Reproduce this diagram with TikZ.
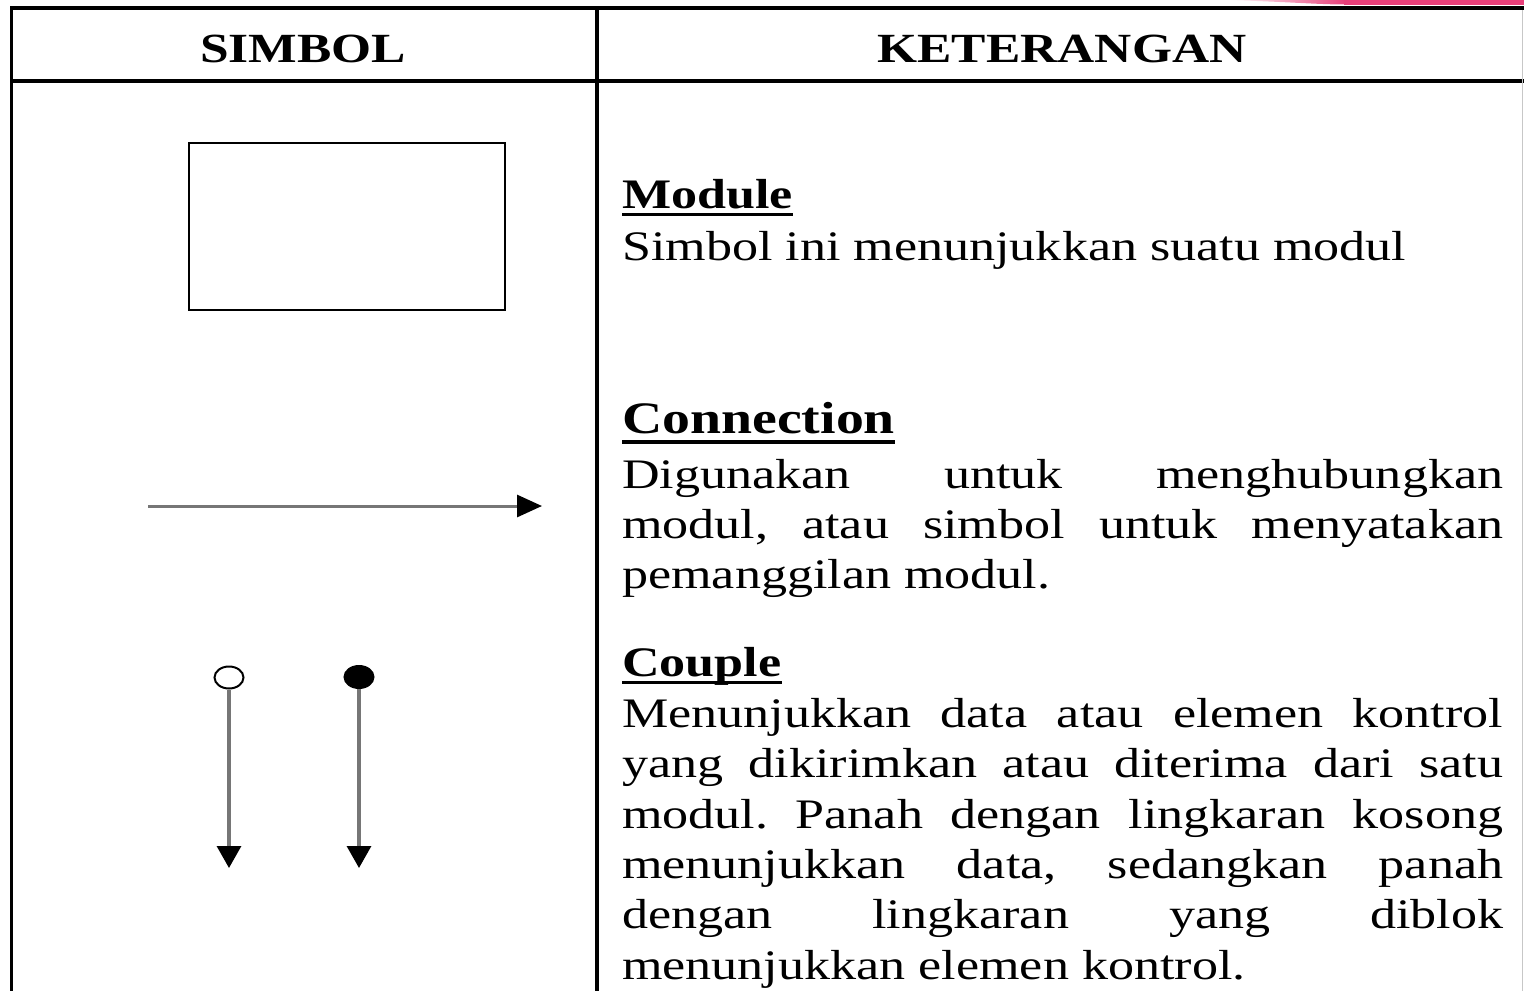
\documentclass[tikz,border=0pt]{standalone}
\usepackage{fontspec}
\setmainfont{Liberation Serif}[FakeStretch=1.24]
\usetikzlibrary{arrows.meta,shapes.geometric}
\definecolor{accent}{HTML}{E8407A}
\definecolor{shaft}{HTML}{767676}
\tikzset{
  rule/.style={line width=4pt, black},
  txt/.style={anchor=base west, inner sep=0pt, font=\fontsize{42}{50}\selectfont},
  head/.style={anchor=base west, inner sep=0pt, font=\fontsize{42}{50}\selectfont\bfseries},
  colhead/.style={anchor=base, inner sep=0pt, font=\fontsize{41.5}{48}\selectfont\bfseries},
  uline/.style={line width=3pt, black},
  flow/.style={shaft, line width=3pt, -{Triangle[length=25pt, width=22pt, color=black]}},
  couple/.style={shaft, line width=3.2pt, -{Triangle[length=22pt, width=24pt, color=black]}},
  knob/.style={ellipse, draw=black, line width=2pt, minimum width=29pt, minimum height=22pt, inner sep=0pt},
}
\newcommand{\just}[1]{\makebox[881pt][s]{#1}}
\begin{document}
\frenchspacing
\begin{tikzpicture}[x=1pt, y=-1pt]
\useasboundingbox (0,0) rectangle (1524,991);
\fill[white] (0,0) rectangle (1524,991);

% accent strip in the top right corner
\shade[left color=white, right color=accent] (1230,0) .. controls (1290,2) and (1320,4.5) .. (1345,4.5) -- (1345,0) -- cycle;
\fill[accent] (1344,0) rectangle (1524,4.5);

% table frame
\draw[rule] (11,8) -- (1524,8);
\draw[rule] (11,81) -- (1524,81);
\draw[line width=3pt] (11,6) -- (11,991);
\draw[rule] (597,6) -- (597,991);
\draw[line width=1.2pt, black!22] (1522.5,10) -- (1522.5,991);

% column headings
\node[colhead] (hsym) at (303,62) {SIMBOL};
\node[colhead] (hket) at (1062,62) {KETERANGAN};

% module symbol
\node[draw=black, line width=2.5pt, minimum width=316pt, minimum height=167pt, inner sep=0pt] (modbox) at (347,226.5) {};

% connection symbol
\coordinate (cstart) at (148,506);
\coordinate (cend) at (542,506);
\draw[flow] (cstart) -- (cend);

% couple symbols
\node[knob, fill=white] (dcirc) at (229,677.5) {};
\node[knob, fill=black] (fcirc) at (359,677) {};
\coordinate (dend) at (229,868);
\coordinate (fend) at (359,868);
\draw[couple] (dcirc.south) -- (dend);
\draw[couple] (fcirc.south) -- (fend);

% Module
\node[head] (tmod) at (622,208) {Module};
\draw[uline] ([yshift=-6pt]tmod.base west) -- ([yshift=-6pt]tmod.base east);
\node[txt] (m1) at (622,260) {Simbol ini menunjukkan suatu modul};

% Connection
\node[head, font=\fontsize{45}{52}\selectfont\bfseries] (tcon) at (622,433) {Connection};
\draw[uline, line width=4.5pt] ([yshift=-9pt]tcon.base west) -- ([yshift=-9pt]tcon.base east);
\node[txt] (n1) at (622,488) {\just{Digunakan untuk menghubungkan}};
\node[txt] (n2) at (622,538) {\just{modul, atau simbol untuk menyatakan}};
\node[txt] (n3) at (622,588) {pemanggilan modul.};

% Couple
\node[head] (tcou) at (622,676) {Couple};
\draw[uline] ([yshift=-6pt]tcou.base west) -- ([yshift=-6pt]tcou.base east);
\node[txt] (k1) at (622,727) {\just{Menunjukkan data atau elemen kontrol}};
\node[txt] (k2) at (622,777.5) {\just{yang dikirimkan atau diterima dari satu}};
\node[txt] (k3) at (622,828) {\just{modul. Panah dengan lingkaran kosong}};
\node[txt] (k4) at (622,878) {\just{menunjukkan data, sedangkan panah}};
\node[txt] (k5) at (622,928.5) {\just{dengan lingkaran yang diblok}};
\node[txt] (k6) at (622,979) {menunjukkan elemen kontrol.};
\end{tikzpicture}
\end{document}
